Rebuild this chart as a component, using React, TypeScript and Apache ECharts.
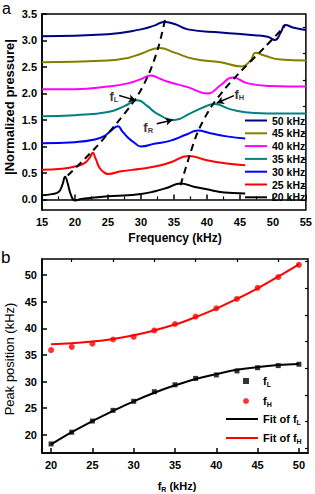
import React, { useEffect, useRef } from "react";
import * as echarts from "echarts";

// ---- Panel (a): normalized pressure spectra ([frequency kHz, value]) ----
const curve20: number[][] = [[15,0.08],[16.5,0.1],[17.5,0.14],[18.1,0.28],[18.5,0.43],[18.9,0.3],[19.4,0.08],[20.0,-0.02],[21,0.01],[22.5,0.03],[25,0.06],[28,0.08],[30,0.1],[32,0.15],[34,0.22],[36,0.3],[38,0.24],[40,0.19],[42,0.14],[44,0.12],[45.8,0.11]];
const curve25: number[][] = [[15,0.56],[18,0.58],[20,0.62],[21.5,0.69],[22.3,0.8],[22.7,0.88],[23.1,0.78],[23.7,0.6],[24.3,0.52],[25,0.48],[27,0.53],[30,0.58],[32.5,0.63],[34.5,0.7],[37.2,0.82],[40,0.74],[43,0.68],[45.8,0.645]];
const curve30: number[][] = [[15,1.06],[20,1.08],[23,1.13],[24.5,1.2],[25.5,1.3],[26.5,1.38],[27.2,1.28],[28,1.17],[29,1.07],[30,1.0],[32,1.05],[34.5,1.11],[37,1.23],[38.6,1.3],[40.5,1.25],[43,1.19],[45.8,1.15]];
const curve35: number[][] = [[15,1.57],[20,1.59],[25,1.65],[27.5,1.76],[29.5,1.87],[31,1.76],[32.3,1.63],[35.1,1.5],[37.4,1.62],[39.5,1.74],[41.1,1.8],[43.6,1.7],[47.2,1.63],[51,1.62],[55,1.62]];
const curve40: number[][] = [[15,2.08],[20,2.08],[25,2.13],[28,2.19],[30,2.27],[31.5,2.34],[32.5,2.3],[34.1,2.22],[37.1,2.12],[40.1,2.0],[42.1,2.16],[43.9,2.3],[46.2,2.19],[49.7,2.14],[55,2.13]];
const curve45: number[][] = [[15,2.59],[25,2.62],[28,2.67],[30,2.75],[32.8,2.86],[35.1,2.77],[38.1,2.65],[42.1,2.59],[45.2,2.51],[46.6,2.62],[47.4,2.77],[48.6,2.72],[51.2,2.64],[55,2.62]];
const curve50: number[][] = [[15,3.08],[25,3.12],[30,3.21],[32,3.28],[33.5,3.35],[35.1,3.31],[37.1,3.21],[42.1,3.15],[47.2,3.1],[49.2,3.07],[50.3,3.01],[51.2,3.15],[51.9,3.29],[53.2,3.24],[55,3.2]];
const dashFL: number[][] = [[18.9,0.45],[22.7,0.92],[26.2,1.42],[29.3,1.92],[31.3,2.4],[32.7,2.9],[33.7,3.42]];
const dashFH: number[][] = [[36.0,0.27],[37.3,0.8],[38.6,1.27],[40.5,1.72],[42.6,2.07],[45,2.4],[48.9,2.89],[51.8,3.27]];
const seriesNamesA = ["50 kHz","45 kHz","40 kHz","35 kHz","30 kHz","25 kHz","20 kHz"];
const seriesColorsA = ["#000080","#808000","#ff00ff","#008080","#0000ff","#ff0000","#000000"];
const curvesA = [curve50, curve45, curve40, curve35, curve30, curve25, curve20];
const yLabelsA = [0,0.5,1,1.5,2,2.5,3,3.5];
const yMinorA = [0.25,0.75,1.25,1.75,2.25,2.75,3.25];
const annotPoints = [
  { name: "L", value: [25.9, 1.95] },
  { name: "R", value: [31.1, 1.36] },
  { name: "H", value: [44.9, 1.98] },
];
const arrowsA = [
  [[26.7, 1.96], [29.2, 1.87]],
  [[32.4, 1.43], [34.8, 1.5]],
  [[44.1, 1.96], [41.5, 1.82]],
];

// ---- Panel (b): peak positions ----
const fR = [20,22.5,25,27.5,30,32.5,35,37.5,40,42.5,45,47.5,50];
const fL = [18.3,20.5,22.6,24.6,26.3,28.1,29.4,30.6,31.25,32.0,32.6,33.0,33.25];
const fH = [35.9,36.5,37.1,37.9,38.4,39.6,40.8,42.2,43.75,45.5,47.6,49.6,51.9];
const fitL = [18.2,20.5,22.6,24.5,26.3,27.9,29.3,30.5,31.4,32.2,32.7,33.1,33.3];
const fitH = [37.0,37.2,37.5,38.0,38.7,39.6,40.7,42.1,43.7,45.5,47.5,49.7,52.0];
const xLabelsB = [20,25,30,35,40,45,50];
const xMinorB = [22.5,27.5,32.5,37.5,42.5,47.5];
const yLabelsB = [20,25,30,35,40,45,50];
const yMinorB = [17.5,22.5,27.5,32.5,37.5,42.5,47.5,52.5];

const FONT = "'Liberation Sans', Arial, Helvetica, sans-serif";
const axisLineS = { show: true, lineStyle: { color: "#000", width: 1.5 } };
const labelS = { color: "#000", fontSize: 11, fontWeight: "bold" as const, fontFamily: FONT };
const subRich = {
  f: { fontSize: 13, fontWeight: "bold", fontFamily: FONT, color: "#000", lineHeight: 14 },
  s: { fontSize: 7.5, fontWeight: "bold", fontFamily: FONT, color: "#000", lineHeight: 7, padding: [8, 0, 0, 0], verticalAlign: "bottom" },
};
const legRich = {
  b: { fontSize: 11, fontWeight: "bold", fontFamily: FONT, color: "#000", lineHeight: 14 },
  s: { fontSize: 7, fontWeight: "bold", fontFamily: FONT, color: "#000", lineHeight: 7, padding: [7, 0, 0, 0], verticalAlign: "bottom" },
};
const legRichPad = {
  b: { ...legRich.b, padding: [0, 0, 0, 9] },
  s: legRich.s,
};

export default function App() {
  const ref = useRef<HTMLDivElement>(null);
  useEffect(() => {
    const chart = echarts.init(ref.current!, null, { renderer: "svg" });
    const seriesA: any[] = curvesA.map((c, i) => ({
      name: seriesNamesA[i], type: "line", xAxisIndex: 0, yAxisIndex: 0, data: c,
      symbol: "none", showSymbol: false, smooth: 0.5,
      lineStyle: { color: seriesColorsA[i], width: 2 }, itemStyle: { color: seriesColorsA[i] },
    }));
    const dash = (d: number[][]) => ({
      type: "line", xAxisIndex: 0, yAxisIndex: 0, data: d, symbol: "none", showSymbol: false, smooth: 0.3,
      lineStyle: { color: "#000", width: 2, type: [7, 5] }, silent: true, z: 3,
    });
    const option: any = {
      animation: false,
      textStyle: { fontFamily: FONT },
      grid: [
        { left: 42, top: 14, width: 265, height: 196, show: true, borderColor: "#000", borderWidth: 1.5 },
        { left: 42, top: 259, width: 266, height: 194, show: true, borderColor: "#000", borderWidth: 1.5 },
      ],
      xAxis: [
        { gridIndex: 0, type: "value", min: 15, max: 55, interval: 5, axisLine: axisLineS,
          axisTick: { inside: true, length: 5, lineStyle: { color: "#000", width: 1.5 } },
          minorTick: { show: true, splitNumber: 2, length: 3, lineStyle: { color: "#000", width: 1.2 } },
          axisLabel: { ...labelS, margin: 6 }, splitLine: { show: false } },
        { gridIndex: 1, type: "value", min: 18.9, max: 51.1, axisLine: axisLineS,
          axisTick: { inside: true, length: 5, customValues: xLabelsB, lineStyle: { color: "#000", width: 1.5 } },
          axisLabel: { ...labelS, margin: 6, customValues: xLabelsB }, splitLine: { show: false } },
        { gridIndex: 1, type: "value", min: 18.9, max: 51.1, axisLine: { show: false },
          axisTick: { inside: true, length: 3, customValues: xMinorB, lineStyle: { color: "#000", width: 1.2 } },
          axisLabel: { show: false }, splitLine: { show: false } },
      ],
      yAxis: [
        { gridIndex: 0, type: "value", min: -0.2, max: 3.5, axisLine: axisLineS,
          axisTick: { inside: true, length: 5, customValues: yLabelsA, lineStyle: { color: "#000", width: 1.5 } },
          axisLabel: { ...labelS, margin: 5, customValues: yLabelsA, formatter: (v: number) => v.toFixed(1) },
          splitLine: { show: false } },
        { gridIndex: 0, type: "value", min: -0.2, max: 3.5, axisLine: { show: false },
          axisTick: { inside: true, length: 3, customValues: yMinorA, lineStyle: { color: "#000", width: 1.2 } },
          axisLabel: { show: false }, splitLine: { show: false } },
        { gridIndex: 1, type: "value", min: 16.6, max: 53, axisLine: axisLineS,
          axisTick: { inside: true, length: 5, customValues: yLabelsB, lineStyle: { color: "#000", width: 1.5 } },
          axisLabel: { ...labelS, margin: 5, customValues: yLabelsB }, splitLine: { show: false } },
        { gridIndex: 1, type: "value", min: 16.6, max: 53, axisLine: { show: false },
          axisTick: { inside: true, length: 3, customValues: yMinorB, lineStyle: { color: "#000", width: 1.2 } },
          axisLabel: { show: false }, splitLine: { show: false } },
      ],
      legend: [
        { data: seriesNamesA, orient: "vertical", left: 245, top: 114.5, padding: 0, itemWidth: 22, itemHeight: 2, itemGap: 0.8,
          icon: "rect",
          textStyle: { fontSize: 10.5, fontWeight: "bold", color: "#000", fontFamily: FONT, lineHeight: 12 },
          selectedMode: false },
        { data: ["fL", "fH"], orient: "vertical", left: 243, top: 374, padding: 0, itemWidth: 6, itemHeight: 6, itemGap: 6,
          formatter: (n: string) => `{b|f}{s|${n.slice(1)}}`, textStyle: { rich: legRichPad }, selectedMode: false },
        { data: ["Fit of fL", "Fit of fH"], orient: "vertical", left: 226, top: 412, padding: 0, itemWidth: 32, itemHeight: 2, itemGap: 5,
          icon: "rect",
          formatter: (n: string) => `{b|Fit of f}{s|${n.slice(-1)}}`, textStyle: { rich: legRich }, selectedMode: false },
      ],
      graphic: [
        { type: "text", left: 2, top: 0, style: { text: "a", fontSize: 16, fontFamily: FONT, fill: "#000" } },
        { type: "text", left: 1, top: 249, style: { text: "b", fontSize: 17, fontFamily: FONT, fill: "#000" } },
        { type: "text", x: 9, y: 107, rotation: Math.PI / 2,
          style: { text: "|Normalized pressure|", align: "center", verticalAlign: "middle", fontSize: 13, fontWeight: "bold", fontFamily: FONT, fill: "#000" } },
        { type: "text", x: 175, y: 238,
          style: { text: "Frequency (kHz)", align: "center", verticalAlign: "middle", fontSize: 12, fontWeight: "bold", fontFamily: FONT, fill: "#000" } },
        { type: "text", x: 9, y: 359, rotation: Math.PI / 2,
          style: { text: "Peak position (kHz)", align: "center", verticalAlign: "middle", fontSize: 13, fontWeight: "normal", fontFamily: FONT, fill: "#000" } },
        { type: "text", x: 177, y: 486,
          style: { text: "{b|f}{s|R}{b| (kHz)}", align: "center", verticalAlign: "middle", rich: legRich } },
      ],
      series: [
        ...seriesA,
        dash(dashFL),
        dash(dashFH),
        { type: "scatter", xAxisIndex: 0, yAxisIndex: 0, data: annotPoints, symbolSize: 0.1, silent: true,
          label: { show: true, position: "inside", formatter: (p: any) => `{f|f}{s|${p.name}}`, rich: subRich },
          markLine: { silent: true, symbol: ["none", "arrow"], symbolSize: [6, 7], label: { show: false },
            lineStyle: { color: "#000", width: 1.5, type: "solid" },
            data: arrowsA.map((a) => [{ coord: a[0] }, { coord: a[1] }]) } },
        { name: "fL", type: "scatter", xAxisIndex: 1, yAxisIndex: 2, data: fR.map((x, i) => [x, fL[i]]),
          symbol: "rect", symbolSize: 5, itemStyle: { color: "#000" }, z: 4 },
        { name: "fH", type: "scatter", xAxisIndex: 1, yAxisIndex: 2, data: fR.map((x, i) => [x, fH[i]]),
          symbol: "circle", symbolSize: 6, itemStyle: { color: "#ff0000" }, z: 4 },
        { name: "Fit of fL", type: "line", xAxisIndex: 1, yAxisIndex: 2, data: fR.map((x, i) => [x, fitL[i]]),
          symbol: "none", showSymbol: false, smooth: 0.4, lineStyle: { color: "#000", width: 2 }, itemStyle: { color: "#000" } },
        { name: "Fit of fH", type: "line", xAxisIndex: 1, yAxisIndex: 2, data: fR.map((x, i) => [x, fitH[i]]),
          symbol: "none", showSymbol: false, smooth: 0.4, lineStyle: { color: "#ff0000", width: 2 }, itemStyle: { color: "#ff0000" } },
      ],
    };
    chart.setOption(option);
    return () => chart.dispose();
  }, []);
  return <div ref={ref} style={{ position: "absolute", left: 0, top: 0, width: 315, height: 494 }} />;
}
